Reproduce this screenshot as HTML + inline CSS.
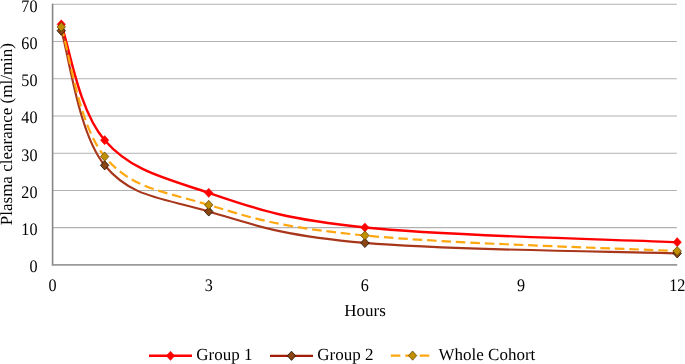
<!DOCTYPE html>
<html><head><meta charset="utf-8"><style>
html,body{margin:0;padding:0;background:#fff;}
body{width:685px;height:364px;overflow:hidden;}
svg{display:block;font-family:"Liberation Serif",serif;will-change:transform;text-rendering:geometricPrecision;}
</style></head><body>
<svg width="685" height="364" viewBox="0 0 685 364">
<rect width="685" height="364" fill="#fff"/>
<g stroke="#B2B2B2" stroke-width="1.1"><line x1="52.6" y1="227.67" x2="676.9" y2="227.67"/><line x1="52.6" y1="190.43" x2="676.9" y2="190.43"/><line x1="52.6" y1="153.20" x2="676.9" y2="153.20"/><line x1="52.6" y1="115.96" x2="676.9" y2="115.96"/><line x1="52.6" y1="78.73" x2="676.9" y2="78.73"/><line x1="52.6" y1="41.50" x2="676.9" y2="41.50"/><line x1="52.6" y1="4.26" x2="676.9" y2="4.26"/></g>
<g stroke="#868686" stroke-width="1.6"><line x1="52.6" y1="3.7" x2="52.6" y2="265.6"/><line x1="51.8" y1="264.9" x2="677.2" y2="264.9" stroke="#999"/></g>
<path d="M61.27,24.37 C69.08,45.21 78.10,109.84 104.65,140.17 C131.20,170.49 161.90,177.13 208.75,192.85 C255.59,208.58 280.58,218.64 364.90,227.52 C449.22,236.40 620.99,239.55 677.20,242.19" fill="none" stroke="#FF0000" stroke-width="2.4"/>
<path d="M61.27,30.70 C69.08,54.93 78.10,132.76 104.65,165.30 C131.20,197.84 161.90,197.50 208.75,211.47 C255.59,225.44 280.58,235.39 364.90,242.93 C449.22,250.47 620.99,251.48 677.20,253.36" fill="none" stroke="#A8361A" stroke-width="2.15"/>
<path d="M61.27,26.97 C69.08,50.30 78.10,124.51 104.65,156.55 C131.20,188.59 161.90,190.74 208.75,204.95 C255.59,219.16 280.58,227.17 364.90,235.49 C449.22,243.80 620.99,248.31 677.20,251.12" fill="none" stroke="#FFA70F" stroke-width="2.2" stroke-dasharray="9.6,4.84"/>
<path d="M61.27,19.77 L65.47,24.37 L61.27,28.97 L57.07,24.37 Z" fill="#FF0000" stroke="#FF0000" stroke-width="0.5"/><path d="M104.65,135.57 L108.85,140.17 L104.65,144.77 L100.45,140.17 Z" fill="#FF0000" stroke="#FF0000" stroke-width="0.5"/><path d="M208.75,188.25 L212.95,192.85 L208.75,197.45 L204.55,192.85 Z" fill="#FF0000" stroke="#FF0000" stroke-width="0.5"/><path d="M364.90,222.92 L369.10,227.52 L364.90,232.12 L360.70,227.52 Z" fill="#FF0000" stroke="#FF0000" stroke-width="0.5"/><path d="M677.20,237.59 L681.40,242.19 L677.20,246.79 L673.00,242.19 Z" fill="#FF0000" stroke="#FF0000" stroke-width="0.5"/>
<path d="M61.27,26.10 L65.47,30.70 L61.27,35.30 L57.07,30.70 Z" fill="#8B4513" stroke="#1a0c00" stroke-width="0.8"/><path d="M104.65,160.70 L108.85,165.30 L104.65,169.90 L100.45,165.30 Z" fill="#8B4513" stroke="#1a0c00" stroke-width="0.8"/><path d="M208.75,206.87 L212.95,211.47 L208.75,216.07 L204.55,211.47 Z" fill="#8B4513" stroke="#1a0c00" stroke-width="0.8"/><path d="M364.90,238.33 L369.10,242.93 L364.90,247.53 L360.70,242.93 Z" fill="#8B4513" stroke="#1a0c00" stroke-width="0.8"/><path d="M677.20,248.76 L681.40,253.36 L677.20,257.96 L673.00,253.36 Z" fill="#8B4513" stroke="#1a0c00" stroke-width="0.8"/>
<path d="M61.27,22.37 L65.47,26.97 L61.27,31.57 L57.07,26.97 Z" fill="#BF8F00" stroke="#5a3a00" stroke-width="0.7"/><path d="M104.65,151.95 L108.85,156.55 L104.65,161.15 L100.45,156.55 Z" fill="#BF8F00" stroke="#5a3a00" stroke-width="0.7"/><path d="M208.75,200.35 L212.95,204.95 L208.75,209.55 L204.55,204.95 Z" fill="#BF8F00" stroke="#5a3a00" stroke-width="0.7"/><path d="M364.90,230.89 L369.10,235.49 L364.90,240.09 L360.70,235.49 Z" fill="#BF8F00" stroke="#5a3a00" stroke-width="0.7"/><path d="M677.20,246.52 L681.40,251.12 L677.20,255.72 L673.00,251.12 Z" fill="#BF8F00" stroke="#5a3a00" stroke-width="0.7"/>
<g font-size="17" fill="#000"><text transform="translate(37.5,272.30) scale(0.95,1.04)" text-anchor="end">0</text><text transform="translate(37.5,235.07) scale(0.95,1.04)" text-anchor="end">10</text><text transform="translate(37.5,197.83) scale(0.95,1.04)" text-anchor="end">20</text><text transform="translate(37.5,160.60) scale(0.95,1.04)" text-anchor="end">30</text><text transform="translate(37.5,123.36) scale(0.95,1.04)" text-anchor="end">40</text><text transform="translate(37.5,86.13) scale(0.95,1.04)" text-anchor="end">50</text><text transform="translate(37.5,48.90) scale(0.95,1.04)" text-anchor="end">60</text><text transform="translate(37.5,11.66) scale(0.95,1.04)" text-anchor="end">70</text><text transform="translate(52.60,290.7) scale(0.95,1.04)" text-anchor="middle">0</text><text transform="translate(208.75,290.7) scale(0.95,1.04)" text-anchor="middle">3</text><text transform="translate(364.90,290.7) scale(0.95,1.04)" text-anchor="middle">6</text><text transform="translate(521.05,290.7) scale(0.95,1.04)" text-anchor="middle">9</text><text transform="translate(677.20,290.7) scale(0.95,1.04)" text-anchor="middle">12</text>
<text x="365" y="316" text-anchor="middle">Hours</text>
<text transform="translate(12.1,134.1) rotate(-90)" text-anchor="middle">Plasma clearance (ml/min)</text>
</g>
<g>
<line x1="149" y1="355.8" x2="192" y2="355.8" stroke="#FF0000" stroke-width="2.4"/>
<path d="M170.50,351.20 L174.70,355.80 L170.50,360.40 L166.30,355.80 Z" fill="#FF0000" stroke="#FF0000" stroke-width="0.5"/>
<line x1="270" y1="355.8" x2="313" y2="355.8" stroke="#A51C06" stroke-width="2.2"/>
<path d="M291.50,351.20 L295.70,355.80 L291.50,360.40 L287.30,355.80 Z" fill="#8B4513" stroke="#1a0c00" stroke-width="0.8"/>
<line x1="390.8" y1="355.6" x2="429.3" y2="355.6" stroke="#FFA70F" stroke-width="2.2" stroke-dasharray="9.6,4.84"/>
<path d="M412.60,351.00 L416.80,355.60 L412.60,360.20 L408.40,355.60 Z" fill="#BF8F00" stroke="#5a3a00" stroke-width="0.7"/>
<g font-size="17" fill="#000">
<text x="196.3" y="360">Group 1</text>
<text x="317.3" y="360">Group 2</text>
<text x="438.5" y="360">Whole Cohort</text>
</g>
</g>
</svg>
</body></html>
